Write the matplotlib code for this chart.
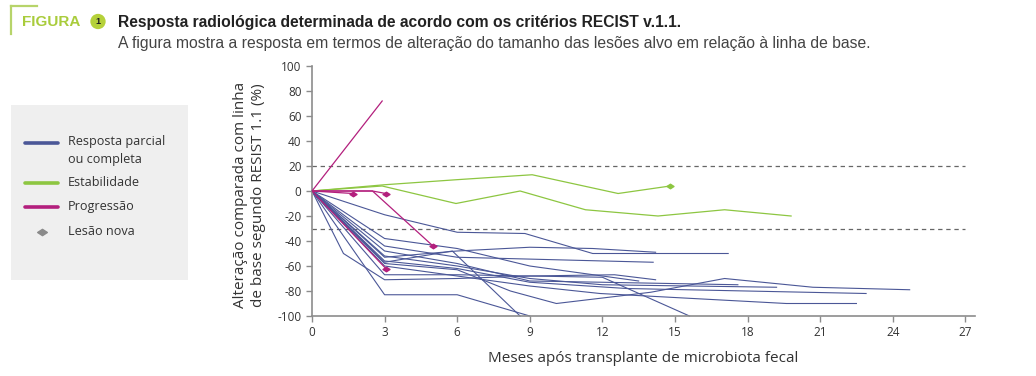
import matplotlib
matplotlib.use("Agg")
import matplotlib.pyplot as plt
from matplotlib.lines import Line2D
from matplotlib.patches import Rectangle
from matplotlib.path import Path

W, H = 1036, 376

# ---- data ----
x_ticks = [0, 3, 6, 9, 12, 15, 18, 21, 24, 27]
y_ticks = [100, 80, 60, 40, 20, 0, -20, -40, -60, -80, -100]
thresholds = [20, -30]

resp_months = [
    [0, 3, 6, 8.8, 11.6, 17.2],
    [0, 3, 6, 9, 11.6, 14.2],
    [0, 3, 6, 14.1],
    [0, 1.3, 3, 6, 9, 12.5, 14.2],
    [0, 3, 6, 8.2, 10.1, 14, 17.05, 20.7, 24.7],
    [0, 3, 6, 9, 12, 17.6],
    [0, 3, 6, 9, 12, 19.2],
    [0, 3, 6, 9, 13, 22.9],
    [0, 3, 6, 9, 11.9, 19.6, 22.5],
    [0, 3, 6, 12, 15.6],
    [0, 3, 5.8, 8.6],
    [0, 3, 6, 9],
    [0, 3, 6, 9, 13.5],
]
resp_values = [
    [0, -19, -33, -34, -50, -50],
    [0, -53, -48, -45, -46, -49],
    [0, -44, -53, -57],
    [0, -50, -71, -70, -68, -67, -71],
    [0, -58, -63, -80, -90, -81, -70, -77, -79],
    [0, -48, -58, -72, -73, -75],
    [0, -52, -60, -70, -75, -77],
    [0, -56, -62, -73, -78, -82],
    [0, -60, -68, -76, -82, -90, -90],
    [0, -67, -67, -69, -100],
    [0, -57, -48, -100],
    [0, -83, -83, -100],
    [0, -38, -46, -60, -72],
]

stab_months = [
    [0, 2.9, 5.95, 8.6, 11.3, 14.3, 17.05, 19.8],
    [0, 3, 5.95, 9.1, 12.65, 14.8],
]
stab_values = [
    [0, 4, -10, 0, -15, -20, -15, -20],
    [0, 5, 9, 13, -2, 4],
]
stab_newlesion = [False, True]

prog_months = [
    [0, 2.9],
    [0, 1.7],
    [0, 2.5, 3.05],
    [0, 2.5, 5.0],
    [0, 3.05],
]
prog_values = [
    [0, 72],
    [0, -2],
    [0, 0, -2],
    [0, 0, -44],
    [0, -62],
]
prog_newlesion = [False, True, True, True, True]

legend_labels = ["Resposta parcial\nou completa", "Estabilidade", "Progressão", "Lesão nova"]

# ---- style ----
BLUE = "#4b5797"
GREEN = "#8dc641"
MAGENTA = "#b31f7d"
GREY = "#8a8a8a"
AXC = "#8c8c8c"
TXT = "#333333"

diamond = Path([(-1, 0), (0, 0.65), (1, 0), (0, -0.65), (-1, 0)],
               [Path.MOVETO, Path.LINETO, Path.LINETO, Path.LINETO, Path.CLOSEPOLY])

plt.rcParams['font.family'] = ['Open Sans', 'DejaVu Sans']

fig = plt.figure(figsize=(W / 100, H / 100), dpi=100)
fig.patch.set_facecolor("white")

def fx(px):
    return px / W

def fy(py):
    return 1 - py / H

AX_L, AX_R, AX_T, AX_B = 312, 975, 66, 316
ax = fig.add_axes([fx(AX_L), fy(AX_B), (AX_R - AX_L) / W, (AX_B - AX_T) / H])
ax.set_xlim(0, 27.4)
ax.set_ylim(-100, 100)

for yv in thresholds:
    ax.plot([0, 27], [yv, yv], color="#666666", lw=0.9, ls=(0, (3.5, 3)), zorder=1)

for m, v in zip(resp_months, resp_values):
    ax.plot(m, v, color=BLUE, lw=0.8, zorder=2, clip_on=False)

for m, v, nl in zip(stab_months, stab_values, stab_newlesion):
    ax.plot(m, v, color=GREEN, lw=0.9, zorder=3)
    if nl:
        ax.plot(m[-1], v[-1], marker=diamond, ms=5, color=GREEN, zorder=4)

for m, v, nl in zip(prog_months, prog_values, prog_newlesion):
    ax.plot(m, v, color=MAGENTA, lw=0.9, zorder=5)
    if nl:
        ax.plot(m[-1], v[-1], marker=diamond, ms=5, color=MAGENTA, zorder=6)

ax.set_xticks(x_ticks)
ax.set_yticks(y_ticks)
ax.set_yticklabels([str(t) for t in y_ticks])
ax.tick_params(axis="both", colors=AXC, labelcolor=TXT, labelsize=8.5,
               length=4, width=1, direction="out")
for s in ["top", "right"]:
    ax.spines[s].set_visible(False)
for s in ["left", "bottom"]:
    ax.spines[s].set_color(AXC)
    ax.spines[s].set_linewidth(1.2)

ax.set_xlabel("Meses após transplante de microbiota fecal", fontsize=11, color=TXT, labelpad=8)
ax.set_ylabel("Alteração comparada com linha\nde base segundo RESIST 1.1 (%)",
              fontsize=11, color=TXT, linespacing=1.25, va="center", ha="center")
ax.yaxis.set_label_coords((249.5 - AX_L) / (AX_R - AX_L), (AX_B - 195) / (AX_B - AX_T))

# ---- header ----
fig.add_artist(Line2D([fx(11), fx(11)], [fy(6), fy(34)], color="#b7d46a", lw=1.6))
fig.add_artist(Line2D([fx(11), fx(37)], [fy(6), fy(6)], color="#b7d46a", lw=1.6))
fig.text(fx(22), fy(22), "FIGURA", fontsize=11, fontweight="bold", color="#a9cc3c",
         family=["Liberation Sans", "DejaVu Sans"], va="center", ha="left")
fig.text(fx(98), fy(21.5), "1", fontsize=6.5, fontweight="bold", color="#222222",
         family=["Liberation Sans", "DejaVu Sans"], va="center", ha="center",
         bbox=dict(boxstyle="circle,pad=0.35", fc="#b5d13a", ec="none"))
fig.text(fx(118), fy(22.5), "Resposta radiológica determinada de acordo com os critérios RECIST v.1.1.",
         fontsize=11.25, fontweight="bold", color="#222222",
         family=["Liberation Sans", "DejaVu Sans"], va="center", ha="left")
fig.text(fx(118), fy(43.5), "A figura mostra a resposta em termos de alteração do tamanho das lesões alvo em relação à linha de base.",
         fontsize=11.3, color="#444444",
         family=["Liberation Sans", "DejaVu Sans"], va="center", ha="left")

# ---- legend box ----
fig.add_artist(Rectangle((fx(11), fy(280)), (188 - 11) / W, (280 - 105) / H,
                         transform=fig.transFigure, fc="#efefef", ec="none", zorder=0))
leg_colors = [BLUE, GREEN, MAGENTA]
leg_y = [143, 183, 207]
for c, yy in zip(leg_colors, leg_y):
    fig.add_artist(Line2D([fx(25), fx(58)], [fy(yy), fy(yy)], color=c, lw=2.6,
                          solid_capstyle="round"))
fig.add_artist(Line2D([fx(42)], [fy(232)], marker=diamond, ms=7, color=GREY, lw=0))
LFS = 9.1
fig.text(fx(68), fy(142), "Resposta parcial", fontsize=LFS, color=TXT, va="center")
fig.text(fx(68), fy(160), "ou completa", fontsize=LFS, color=TXT, va="center")
fig.text(fx(68), fy(183), legend_labels[1], fontsize=LFS, color=TXT, va="center")
fig.text(fx(68), fy(207), legend_labels[2], fontsize=LFS, color=TXT, va="center")
fig.text(fx(68), fy(231), legend_labels[3], fontsize=LFS, color=TXT, va="center")

fig.savefig("out.png", dpi=100, facecolor="white")
